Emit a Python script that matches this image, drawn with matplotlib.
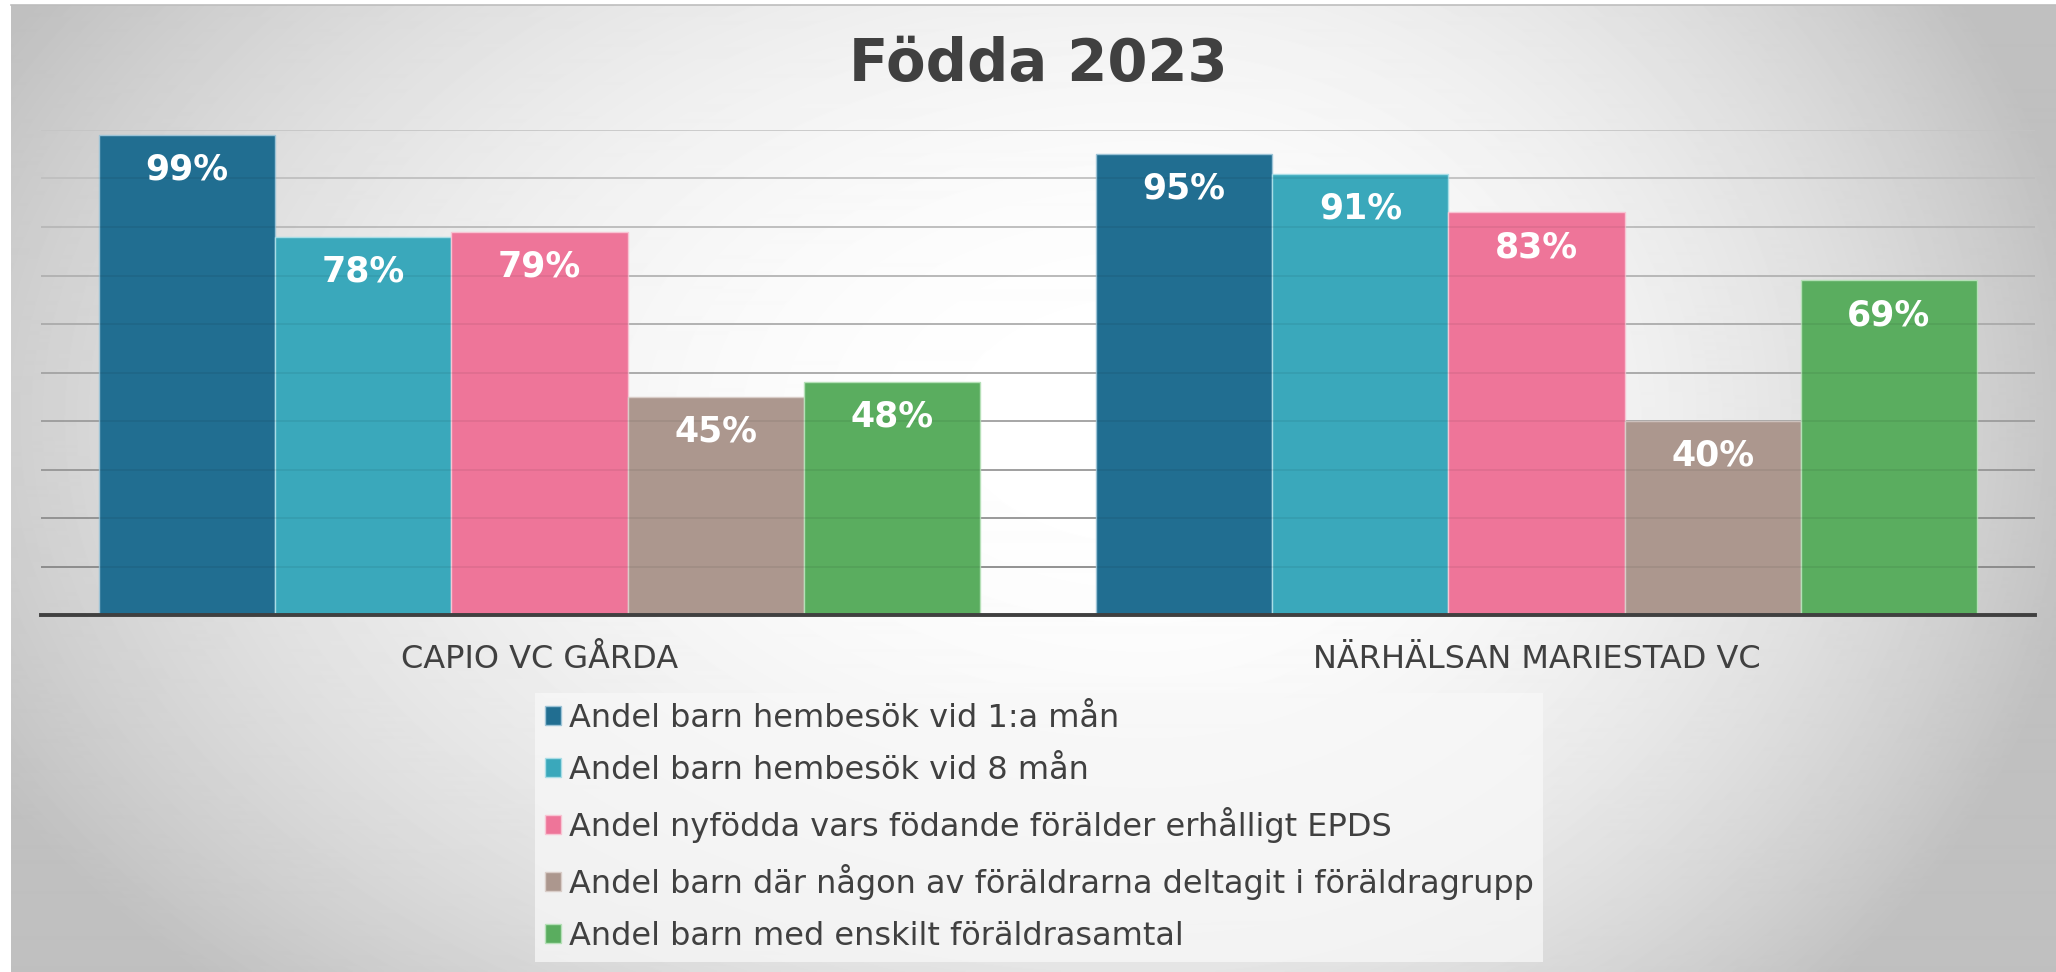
import numpy as np
import matplotlib
matplotlib.use("Agg")
import matplotlib.pyplot as plt

plt.rcParams['font.family'] = ['DejaVu Sans']

# data
categories = ["CAPIO VC GÅRDA", "NÄRHÄLSAN MARIESTAD VC"]
series_labels = [
    "Andel barn hembesök vid 1:a mån",
    "Andel barn hembesök vid 8 mån",
    "Andel nyfödda vars födande förälder erhålligt EPDS",
    "Andel barn där någon av föräldrarna deltagit i föräldragrupp",
    "Andel barn med enskilt föräldrasamtal",
]
hembesok_1man = [0.99, 0.95]
hembesok_8man = [0.78, 0.91]
epds = [0.79, 0.83]
foraldragrupp = [0.45, 0.40]
foraldrasamtal = [0.48, 0.69]
series_values = [hembesok_1man, hembesok_8man, epds, foraldragrupp, foraldrasamtal]

colors = ["#216e91", "#3aa8bb", "#ee7599", "#ac978e", "#5aad5f"]
edges = ["#9cc3d6", "#a8dde6", "#f8c4d3", "#d9cdc8", "#b5e0b7"]
text_col = "#404040"

W, H = 2056, 972
fig = plt.figure(figsize=(W / 100, H / 100), dpi=100)
fig.patch.set_facecolor("white")

# radial-ish grey gradient background of the chart area
bg = fig.add_axes([11 / W, 0, 1 - 11 / W, (H - 5) / H], zorder=-10)
yy, xx = np.mgrid[5:H, 11:W]
cx, cy = 1150.0, 420.0
dx = np.where(xx < cx, (xx - cx) / 1300.0, (xx - cx) / 950.0)
dy = (yy - cy) / 820.0
d = np.clip(np.sqrt(dx ** 2 + dy ** 2), 0, 1.0)
v = 1 - 0.25 * d ** 2.2
bg.imshow(v, cmap="gray", vmin=0, vmax=1, aspect="auto", interpolation="bilinear")
bg.axis("off")
fig.add_artist(plt.Line2D([11 / W, 1], [1 - 5 / H, 1 - 5 / H], color="#bdbdbd", lw=1.2))

ax = fig.add_axes([41 / W, (H - 615) / H, 1994 / W, 485 / H])
ax.patch.set_alpha(0)
ax.set_xlim(-0.5, 1.5)
ax.set_ylim(0, 1.0)

# gridlines, lighter towards the top; faint copy shows through the bars
for k in range(1, 11):
    g = 0.55 + (k - 1) / 9 * 0.28
    ax.axhline(k / 10, color=(g, g, g), lw=1.2, zorder=1)
    ax.axhline(k / 10, color="black", alpha=0.07, lw=1.2, zorder=2.5)

w = 0.1767
x = np.arange(len(categories))
for i, (vals, lab) in enumerate(zip(series_values, series_labels)):
    pos = x + (i - 2) * w
    ax.bar(pos, vals, w, color=colors[i], edgecolor=edges[i],
           linewidth=1.0, label=lab, zorder=2)
    for px, val in zip(pos, vals):
        ax.annotate(f"{val:.0%}", (px, val), xytext=(0, -25), textcoords="offset points",
                    ha="center", va="center", color="white", fontsize=25,
                    fontweight="bold", zorder=3)

for s in ["top", "left", "right"]:
    ax.spines[s].set_visible(False)
ax.spines["bottom"].set_color(text_col)
ax.spines["bottom"].set_linewidth(2.8)
ax.spines["bottom"].set_zorder(4)
ax.set_yticks([])
ax.set_xticks(x)
ax.set_xticklabels(categories, fontsize=23, color=text_col)
ax.tick_params(axis="x", length=0, pad=21)

fig.text(1038 / W, 1 - 64 / H, "Födda 2023", ha="center", va="center",
         fontsize=41.5, fontweight="bold", color=text_col)

leg = fig.legend(loc="upper left", bbox_to_anchor=(535 / W, 1 - 693 / H),
                 fontsize=23, frameon=True, fancybox=False, borderaxespad=0,
                 borderpad=0.3, handlelength=0.5, handleheight=0.55,
                 handletextpad=0.25, labelspacing=0.66)
leg.get_frame().set_facecolor("#f8f8f8")
leg.get_frame().set_edgecolor("none")
leg.get_frame().set_alpha(0.75)
for t in leg.get_texts():
    t.set_color(text_col)

fig.savefig("out.png", dpi=100)
